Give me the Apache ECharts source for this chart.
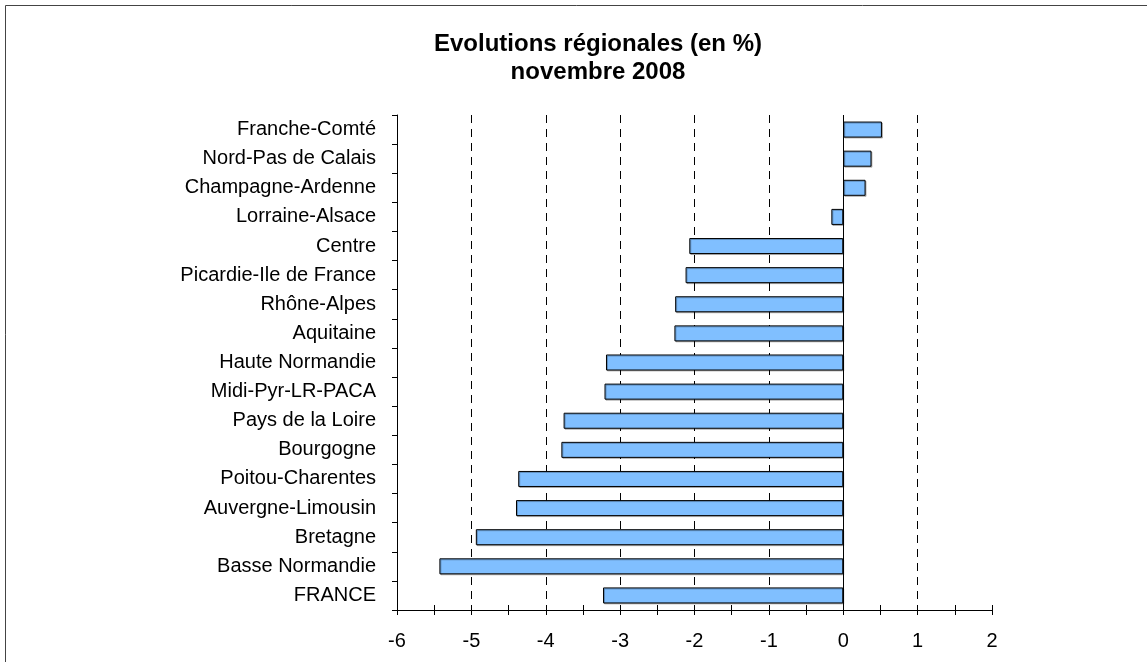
<!DOCTYPE html>
<html>
<head>
	<meta charset="UTF-8">
	<title>Evolutions régionales</title>
	<script src="https://cdn.jsdelivr.net/npm/echarts@6/dist/echarts.min.js"></script>
	<style>
		html,body{margin:0;padding:0;background:#fff;}
		#chart1{width:1147px;height:662px;}
	</style>
</head>
<body>
	<div id="chart1"></div>
	<script>
		// regions, top to bottom
		var regions = ['Franche-Comté','Nord-Pas de Calais','Champagne-Ardenne','Lorraine-Alsace','Centre',
			'Picardie-Ile de France','Rhône-Alpes','Aquitaine','Haute Normandie','Midi-Pyr-LR-PACA',
			'Pays de la Loire','Bourgogne','Poitou-Charentes','Auvergne-Limousin','Bretagne','Basse Normandie','FRANCE'];
		var evolutions = [0.52,0.38,0.30,-0.16,-2.07,-2.12,-2.26,-2.27,-3.19,-3.21,-3.76,-3.79,-4.37,-4.40,-4.94,-5.43,-3.23];
		var xTicks = [-6,-5,-4,-3,-2,-1,0,1,2];

		var font = 'Liberation Sans, Arial, sans-serif';
		var myChart = echarts.init(document.getElementById('chart1'));

		// dashed lines at every integer except the two edges
		var gridColors = xTicks.map(function(v){ return (v === xTicks[0] || v === xTicks[xTicks.length-1]) ? 'transparent' : '#000'; });

		var hiddenAxis = function(inside){
			return {
				type:'value', min:-6, max:2, interval:0.5, position:'bottom',
				axisLine:{show:false},
				axisLabel:{show:false},
				splitLine:{show:false},
				axisTick:{show:true, inside:inside, length:5, lineStyle:{color:'#000'}}
			};
		};

		var option = {
			backgroundColor:'#fff',
			animation:false,
			textStyle:{fontFamily:font},
			graphic:[{
				type:'rect', silent:true, z:-1,
				shape:{x:5.5, y:5.5, width:1200, height:700},
				style:{fill:'none', stroke:'#444', lineWidth:1}
			}],
			title:{
				text:'Evolutions régionales (en %)\nnovembre 2008',
				left:593, top:25, textAlign:'center',
				textStyle:{fontFamily:font, fontSize:24, fontWeight:'bold', color:'#000', lineHeight:28}
			},
			grid:{left:397, right:155, top:115, bottom:52},
			xAxis:[{
				type:'value', min:-6, max:2, interval:1, position:'bottom',
				axisLine:{show:true, onZero:false, lineStyle:{color:'#000'}},
				axisTick:{show:false},
				axisLabel:{color:'#000', fontSize:20, margin:21, fontFamily:font},
				splitLine:{show:true, lineStyle:{color:gridColors, type:[8,6], width:1}}
			}, hiddenAxis(false), hiddenAxis(true)],
			yAxis:{
				type:'category', data:regions, inverse:true,
				axisLine:{show:true, onZero:false, lineStyle:{color:'#000'}},
				axisTick:{show:true, length:5, lineStyle:{color:'#000'}},
				axisLabel:{color:'#000', fontSize:20, margin:21, fontFamily:font},
				splitLine:{show:false}
			},
			series:[{
				type:'bar', data:evolutions, barWidth:'55%',
				itemStyle:{color:'#80BFFF', borderColor:'#000', borderWidth:1,
					shadowColor:'rgba(0,0,0,0.25)', shadowOffsetX:1, shadowOffsetY:1},
				markLine:{
					silent:true, symbol:'none', label:{show:false},
					lineStyle:{color:'#000', type:'solid', width:1},
					data:[{xAxis:0}]
				}
			}]
		};
		myChart.setOption(option);
	</script>
</body>
</html>
